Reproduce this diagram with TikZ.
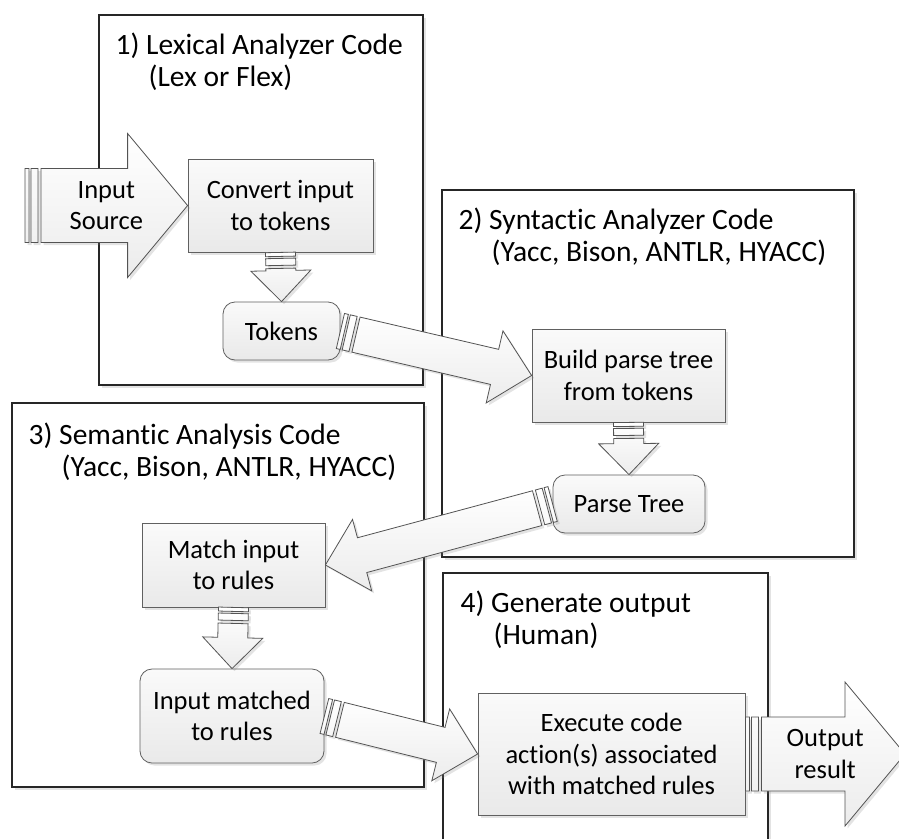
\documentclass[tikz,border=0pt]{standalone}
\usepackage{fontspec}
\setmainfont{Carlito}[Ligatures=NoCommon]
\usetikzlibrary{calc,shadows}
% striped block arrow: tail, tip, body half width, head half width, head length
\newcommand{\stripedarrow}[5]{%
 \path[blockarrow] let \p1=(#1), \p2=(#2),
   \n1={atan2(\y2-(\y1),\x2-(\x1))}, \n2={veclen(\x2-(\x1),\y2-(\y1))} in
   ($(\p1)+(\n1:16pt)+(\n1+90:#3pt)$) -- ($(\p1)+(\n1:\n2-#5pt)+(\n1+90:#3pt)$)
   -- ($(\p1)+(\n1:\n2-#5pt)+(\n1+90:#4pt)$) -- (\p2)
   -- ($(\p1)+(\n1:\n2-#5pt)+(\n1-90:#4pt)$) -- ($(\p1)+(\n1:\n2-#5pt)+(\n1-90:#3pt)$)
   -- ($(\p1)+(\n1:16pt)+(\n1-90:#3pt)$) -- cycle
   ($(\p1)+(\n1+90:#3pt)$) -- ($(\p1)+(\n1:4pt)+(\n1+90:#3pt)$)
   -- ($(\p1)+(\n1:4pt)+(\n1-90:#3pt)$) -- ($(\p1)+(\n1-90:#3pt)$) -- cycle
   ($(\p1)+(\n1:6pt)+(\n1+90:#3pt)$) -- ($(\p1)+(\n1:13pt)+(\n1+90:#3pt)$)
   -- ($(\p1)+(\n1:13pt)+(\n1-90:#3pt)$) -- ($(\p1)+(\n1:6pt)+(\n1-90:#3pt)$) -- cycle;%
}
\begin{document}
\begin{tikzpicture}[x=1pt,y=-1pt,
  every node/.style={font=\fontsize{26.5}{31.5}\selectfont},
  softshadow/.style={drop shadow={opacity=0.22,shadow xshift=2.5pt,shadow yshift=-2.5pt}},
  frame/.style={draw=black!85,line width=1.1pt,fill=white,softshadow,inner sep=0pt},
  title/.style={font=\fontsize{29.5}{32}\selectfont,anchor=base west,inner sep=0pt},
  stepbox/.style={draw=gray!75!black,line width=0.8pt,top color=gray!4,bottom color=gray!17,
    softshadow,align=center,inner sep=0pt},
  roundbox/.style={stepbox,rounded corners=12pt},
  blockarrow/.style={draw=gray!65!black,line width=0.8pt,top color=white,bottom color=gray!15,
    softshadow,line join=miter},
  arrowtext/.style={align=center,inner sep=0pt}]
 \useasboundingbox (0,0) rectangle (899,838);
 \clip (0,0) rectangle (899,838);

 % stage frames
 \node[frame,minimum width=324pt,minimum height=370pt] (f1) at (261,200) {};
 \node[frame,minimum width=412pt,minimum height=367pt] (f2) at (648,373.5) {};
 \node[frame,minimum width=412pt,minimum height=384pt] (f3) at (218,595) {};
 \node[frame,minimum width=325pt,minimum height=307pt] (f4) at (605.5,726.5) {};

 \node[title] (t1) at ($(f1.north west)+(17,40)$) {1) Lexical Analyzer Code};
 \node[title] (t1b) at ($(t1.base west)+(33,32)$) {(Lex or Flex)};
 \node[title] (t2) at ($(f2.north west)+(17,40)$) {2) Syntactic Analyzer Code};
 \node[title] (t2b) at ($(t2.base west)+(33,32)$) {(Yacc, Bison, ANTLR, HYACC)};
 \node[title] (t3) at ($(f3.north west)+(17,42)$) {3) Semantic Analysis Code};
 \node[title] (t3b) at ($(t3.base west)+(33,32)$) {(Yacc, Bison, ANTLR, HYACC)};
 \node[title] (t4) at ($(f4.north west)+(18,40)$) {4) Generate output};
 \node[title] (t4b) at ($(t4.base west)+(33,32)$) {(Human)};

 % steps
 \node[stepbox,minimum width=185pt,minimum height=93pt] (convert) at (280.5,205.5) {Convert input\\to tokens};
 \node[roundbox,minimum width=117pt,minimum height=58pt] (tokens) at (281.5,331) {Tokens};
 \node[stepbox,minimum width=193pt,minimum height=93pt] (build) at (628.5,375.5) {Build parse tree\\from tokens};
 \node[roundbox,minimum width=152pt,minimum height=58pt] (parse) at (629,504) {Parse Tree};
 \node[stepbox,minimum width=183pt,minimum height=84pt] (match) at (233.5,565) {Match input\\to rules};
 \node[roundbox,minimum width=184pt,minimum height=94pt] (matched) at (232,716) {Input matched\\to rules};
 \node[stepbox,minimum width=267pt,minimum height=122pt] (execute) at (611.5,754) {Execute code\\action(s) associated\\with matched rules};

 \coordinate (srctail) at (25,205.5);
 \coordinate (outtip) at (905,754);

 % arrows
 \stripedarrow{srctail}{convert.west}{37}{72}{60}
 \stripedarrow{convert.south}{tokens.north}{15}{30}{31}
 \stripedarrow{tokens.east}{build.west}{18}{37}{38}
 \stripedarrow{build.south}{parse.north}{15}{30}{31}
 \stripedarrow{parse.west}{match.east}{18}{37}{38}
 \stripedarrow{match.south}{matched.north}{15}{30}{31}
 \stripedarrow{matched.east}{execute.west}{18}{37}{38}
 \stripedarrow{execute.east}{outtip}{37}{72}{60}

 \node[arrowtext] (srclabel) at ($(srctail)!0.5!(convert.west)$) {Input\\Source};
 \node[arrowtext] (outlabel) at ($(execute.east)!0.5!(outtip)$) {Output\\result};
\end{tikzpicture}
\end{document}
